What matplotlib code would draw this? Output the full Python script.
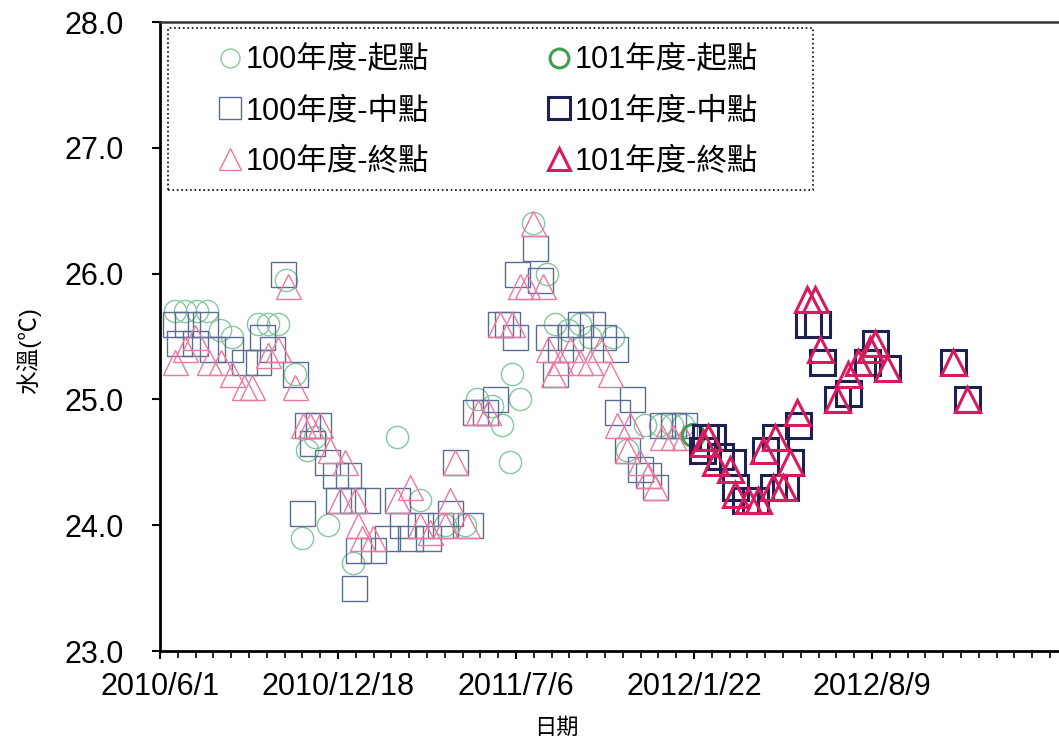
import matplotlib
matplotlib.use('Agg')
import matplotlib.pyplot as plt
import pandas as pd
from matplotlib.ticker import FixedLocator
from matplotlib.patches import Rectangle

plt.rcParams['font.family'] = ['Liberation Sans', 'Noto Sans CJK TC']

# 100年度 - 起點
dates_100_start = ['2010-06-18', '2010-06-29', '2010-07-13', '2010-07-24', '2010-08-07', '2010-08-21',
                   '2010-09-19', '2010-09-30', '2010-10-12', '2010-10-21', '2010-10-31', '2010-11-08',
                   '2010-11-13', '2010-11-22', '2010-12-07', '2011-01-04', '2011-02-22', '2011-03-20',
                   '2011-04-17', '2011-05-10', '2011-05-23', '2011-06-09', '2011-06-20', '2011-06-29',
                   '2011-07-02', '2011-07-10', '2011-07-25', '2011-08-10', '2011-08-19', '2011-09-02',
                   '2011-09-16', '2011-09-27', '2011-10-23', '2011-11-08', '2011-11-28', '2011-12-15',
                   '2011-12-28', '2012-01-10']
temp_100_start = [25.7, 25.7, 25.7, 25.7, 25.55, 25.5,
                  25.6, 25.6, 25.6, 25.95, 25.2, 23.9,
                  24.6, 24.7, 24.0, 23.7, 24.7, 24.2,
                  24.0, 24.0, 25.0, 24.95, 24.8, 24.5,
                  25.2, 25.0, 26.4, 26.0, 25.6, 25.55,
                  25.6, 25.5, 25.5, 24.6, 24.8, 24.8,
                  24.8, 24.8]

# 100年度 - 中點
dates_100_mid = ['2010-06-18', '2010-06-23', '2010-07-01', '2010-07-10', '2010-07-22', '2010-07-29',
                 '2010-08-19', '2010-09-04', '2010-09-19', '2010-09-24', '2010-10-05', '2010-10-17',
                 '2010-10-31', '2010-11-08', '2010-11-13', '2010-11-19', '2010-11-26', '2010-12-06',
                 '2010-12-15', '2010-12-18', '2010-12-29', '2011-01-03', '2011-01-05', '2011-01-09',
                 '2011-01-20', '2011-01-26', '2011-02-11', '2011-02-22', '2011-02-28', '2011-03-09',
                 '2011-03-20', '2011-03-29', '2011-04-12', '2011-04-23', '2011-04-28', '2011-05-15',
                 '2011-05-21', '2011-06-01', '2011-06-12', '2011-06-18', '2011-06-26', '2011-07-05',
                 '2011-07-07', '2011-07-27', '2011-08-02', '2011-08-11', '2011-08-19', '2011-08-24',
                 '2011-09-05', '2011-09-16', '2011-09-29', '2011-10-12', '2011-10-25', '2011-10-27',
                 '2011-11-08', '2011-11-13', '2011-11-22', '2011-12-01', '2011-12-09', '2011-12-17',
                 '2011-12-29', '2012-01-11']
temp_100_mid = [25.6, 25.45, 25.6, 25.45, 25.6, 25.4,
                25.4, 25.3, 25.3, 25.5, 25.4, 26.0,
                25.2, 24.1, 24.8, 24.65, 24.8, 24.5,
                24.4, 24.2, 24.4, 24.2, 23.5, 23.8,
                24.2, 23.8, 23.9, 24.2, 24.0, 23.9,
                24.0, 23.9, 24.0, 24.1, 24.5, 24.0,
                24.9, 24.9, 25.0, 25.6, 25.6, 25.5,
                26.0, 26.2, 25.95, 25.5, 25.2, 25.4,
                25.5, 25.6, 25.6, 25.5, 25.4, 24.9,
                24.6, 25.0, 24.45, 24.4, 24.3, 24.8,
                24.8, 24.8]

# 100年度 - 終點
dates_100_end = ['2010-06-18', '2010-06-29', '2010-07-10', '2010-07-26', '2010-08-09', '2010-08-21',
                 '2010-09-04', '2010-09-12', '2010-09-30', '2010-10-12', '2010-10-23', '2010-10-31',
                 '2010-11-09', '2010-11-17', '2010-11-28', '2010-12-09', '2010-12-20', '2010-12-26',
                 '2011-01-06', '2011-01-09', '2011-01-14', '2011-01-26', '2011-02-22', '2011-03-09',
                 '2011-03-20', '2011-03-31', '2011-04-17', '2011-04-23', '2011-04-28', '2011-05-12',
                 '2011-05-24', '2011-06-05', '2011-06-18', '2011-07-02', '2011-07-10', '2011-07-18',
                 '2011-07-25', '2011-08-05', '2011-08-11', '2011-08-17', '2011-08-24', '2011-09-05',
                 '2011-09-16', '2011-09-27', '2011-10-08', '2011-10-20', '2011-10-27', '2011-11-08',
                 '2011-11-11', '2011-11-22', '2011-12-01', '2011-12-09', '2011-12-17', '2011-12-29',
                 '2012-01-11']
temp_100_end = [25.3, 25.4, 25.5, 25.3, 25.3, 25.2,
                25.1, 25.1, 25.35, 25.4, 25.9, 25.1,
                24.8, 24.8, 24.8, 24.6, 24.2, 24.5,
                24.2, 24.0, 23.9, 23.9, 24.2, 24.3,
                24.0, 23.95, 24.0, 24.2, 24.5, 24.0,
                24.9, 24.9, 25.6, 25.6, 25.9, 25.9,
                26.4, 25.9, 25.4, 25.2, 25.3, 25.4,
                25.3, 25.3, 25.4, 25.2, 24.8, 24.6,
                24.8, 24.5, 24.4, 24.3, 24.7, 24.7,
                24.7]

# 101年度 - 起點
dates_101_start = ['2012-01-21']
temp_101_start = [24.72]

# 101年度 - 中點
dates_101_mid = ['2012-01-31', '2012-02-03', '2012-02-11', '2012-02-20', '2012-03-05', '2012-03-08',
                 '2012-03-19', '2012-03-31', '2012-04-11', '2012-04-20', '2012-04-22', '2012-05-03',
                 '2012-05-09', '2012-05-18', '2012-05-29', '2012-06-08', '2012-06-14', '2012-07-01',
                 '2012-07-13', '2012-08-03', '2012-08-12', '2012-08-26', '2012-11-08', '2012-11-24']
temp_101_mid = [24.6, 24.7, 24.7, 24.55, 24.5, 24.3,
                24.2, 24.2, 24.6, 24.3, 24.7, 24.3,
                24.5, 24.8, 25.6, 25.6, 25.3, 25.0,
                25.05, 25.3, 25.45, 25.25, 25.3, 25.0]

# 101年度 - 終點
dates_101_end = ['2012-02-01', '2012-02-07', '2012-02-15', '2012-03-02', '2012-03-08', '2012-03-23',
                 '2012-04-03', '2012-04-09', '2012-04-20', '2012-04-22', '2012-05-01', '2012-05-09',
                 '2012-05-17', '2012-05-28', '2012-06-06', '2012-06-12', '2012-07-01', '2012-07-13',
                 '2012-07-24', '2012-08-07', '2012-08-12', '2012-08-26', '2012-11-08', '2012-11-24']
temp_101_end = [24.65, 24.7, 24.5, 24.45, 24.25, 24.2,
                24.2, 24.6, 24.3, 24.7, 24.3, 24.5,
                24.9, 25.8, 25.8, 25.4, 25.0, 25.2,
                25.3, 25.4, 25.45, 25.25, 25.3, 25.0]

start = pd.Timestamp('2010-06-01')
tick_days = [0, 200, 400, 600, 800]

fig = plt.figure(figsize=(10.59, 7.46), dpi=100)
ax = fig.add_axes([0.151, 0.1273, 0.849, 0.8432])

series = [
    (dates_100_start, temp_100_start, 'o', 16, '#86c79c', 1.0, '100年度-起點'),
    (dates_100_mid, temp_100_mid, 's', 18, '#5b6d93', 1.0, '100年度-中點'),
    (dates_100_end, temp_100_end, '^', 18, '#ee78a2', 1.0, '100年度-終點'),
    (dates_101_start, temp_101_start, 'o', 16, '#3f9f4c', 2.2, '101年度-起點'),
    (dates_101_mid, temp_101_mid, 's', 18, '#1d2150', 2.2, '101年度-中點'),
    (dates_101_end, temp_101_end, '^', 18, '#d81b5e', 2.2, '101年度-終點'),
]
lines = []
for d, t, m, ms, c, lw, lab in series:
    ln, = ax.plot(pd.to_datetime(d), t, linestyle='none', marker=m, ms=ms, mfc='none',
                  mec=c, mew=lw, label=lab)
    lines.append(ln)

ax.set_xlim(start, start + pd.Timedelta(days=1010))
ax.set_ylim(23, 28)
ax.set_yticks([23, 24, 25, 26, 27, 28])
ax.set_yticklabels(['23.0', '24.0', '25.0', '26.0', '27.0', '28.0'], fontsize=22)

ticks = [start + pd.Timedelta(days=k) for k in tick_days]
ax.set_xticks(ticks)
ax.set_xticklabels([f'{t.year}/{t.month}/{t.day}' for t in ticks], fontsize=22)
minor = [start + pd.Timedelta(days=k) for k in range(0, 1011, 20)]
ax.xaxis.set_minor_locator(FixedLocator(matplotlib.dates.date2num(minor)))

ax.tick_params(axis='both', which='major', direction='out', length=6, width=1.5)
ax.tick_params(axis='x', which='major', pad=9)
ax.tick_params(axis='y', which='major', pad=20)
ax.tick_params(axis='x', which='minor', direction='out', length=5, width=1.2)
ax.spines['right'].set_visible(False)
for s in ['left', 'bottom']:
    ax.spines[s].set_linewidth(2)
ax.spines['top'].set_linewidth(1.8)
ax.spines['top'].set_color('#333333')

ax.set_ylabel('水溫(℃)', fontsize=17)
ax.yaxis.set_label_coords(-0.132, 0.478)
ax.set_xlabel('日期', fontsize=16)
ax.xaxis.set_label_coords(0.441, -0.106)

# two legend columns placed separately inside one dotted box
leg_kw = dict(loc='upper left', frameon=False, fontsize=22, markerscale=0.85,
              handlelength=0.75, handletextpad=0.15, labelspacing=0.68, borderpad=0,
              borderaxespad=0)
leg1 = ax.legend(handles=lines[:3], bbox_to_anchor=(0.0648, 0.963), **leg_kw)
ax.add_artist(leg1)
ax.legend(handles=lines[3:], bbox_to_anchor=(0.4307, 0.963), **leg_kw)
ax.add_patch(Rectangle((0.0089, 0.733), 0.7174, 0.2575, transform=ax.transAxes,
                       fill=False, edgecolor='black', linestyle=':', linewidth=1.2,
                       zorder=5))

fig.savefig('out.png', dpi=100)
